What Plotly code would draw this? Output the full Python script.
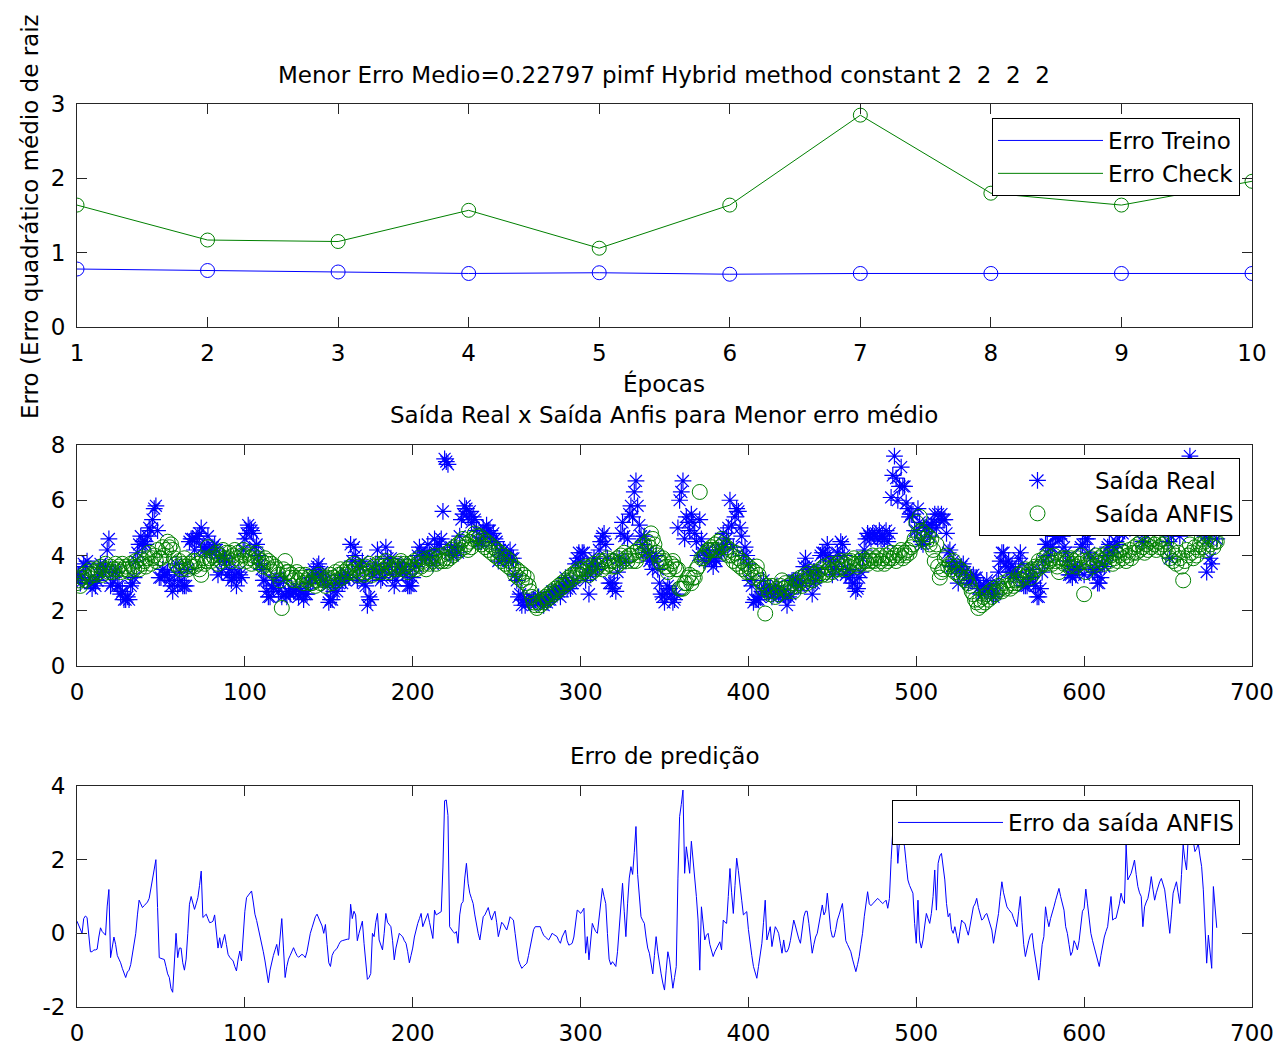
import plotly.graph_objects as go

# ---------------- data ----------------
epochs = [1, 2, 3, 4, 5, 6, 7, 8, 9, 10]
erro_treino = [0.78, 0.76, 0.74, 0.72, 0.73, 0.71, 0.72, 0.72, 0.72, 0.72]
erro_check = [1.64, 1.17, 1.15, 1.57, 1.06, 1.64, 2.85, 1.80, 1.64, 1.96]

saida_anfis = [
    3.0, 3.1, 2.9, 3.2, 3.3, 3.1, 3.4, 3.2, 3.5, 3.3, 3.4, 3.3, 3.5, 3.4, 3.6, 3.3, 3.5, 3.7, 3.5, 3.4,
    3.6, 3.4, 3.5, 3.7, 3.5, 3.6, 3.4, 3.7, 3.5, 3.6, 3.5, 3.4, 3.7, 3.6, 3.5, 3.8, 3.6, 3.5, 3.9, 3.7,
    3.8, 3.6, 3.9, 4.1, 3.7, 3.9, 4.0, 3.8, 4.2, 3.9, 3.9, 4.3, 4.0, 4.2, 4.5, 4.3, 4.4, 4.2, 3.9, 3.7,
    3.6, 3.8, 3.5, 3.7, 3.9, 3.6, 3.5, 3.7, 3.6, 3.8, 3.6, 3.8, 3.7, 3.5, 3.3, 3.9, 3.7, 3.8, 4.3, 3.9,
    3.8, 4.0, 3.9, 4.1, 3.7, 4.0, 3.8, 4.2, 3.9, 4.1, 3.9, 4.1, 3.8, 4.0, 4.2, 3.9, 4.1, 3.8, 4.0, 4.2,
    4.0, 3.8, 4.1, 3.9, 3.7, 4.0, 3.8, 4.1, 3.9, 3.7, 3.8, 3.6, 3.9, 3.7, 3.8, 3.5, 3.7, 3.4, 3.6, 3.5,
    3.3, 3.1, 2.1, 3.5, 3.8, 3.4, 3.4, 3.2, 3.3, 3.1, 3.2, 3.4, 3.1, 3.3, 3.2, 3.0, 3.3, 3.1, 3.2, 3.0,
    3.0, 3.2, 2.9, 3.1, 3.3, 3.0, 3.2, 3.1, 2.9, 3.2, 3.1, 3.3, 3.0, 3.2, 3.4, 3.1, 3.3, 3.5, 3.2, 3.4,
    3.3, 3.5, 3.4, 3.6, 3.4, 3.7, 3.5, 3.3, 3.6, 3.4, 3.5, 3.3, 3.6, 3.4, 3.7, 3.5, 3.3, 3.6, 3.4, 3.7,
    3.6, 3.4, 3.7, 3.5, 3.8, 3.6, 3.4, 3.7, 3.5, 3.6, 3.5, 3.7, 3.6, 3.8, 3.5, 3.7, 3.6, 3.4, 3.7, 3.5,
    3.6, 3.8, 3.5, 3.7, 3.9, 3.6, 3.8, 3.7, 3.5, 3.9, 3.7, 3.9, 3.8, 4.0, 3.7, 3.9, 3.8, 4.0, 3.8, 3.9,
    3.8, 4.1, 3.9, 4.2, 4.0, 4.3, 4.1, 4.4, 4.2, 4.5, 4.6, 4.3, 4.4, 4.2, 4.5, 4.3, 4.6, 4.8, 4.7, 4.5,
    4.7, 4.4, 4.6, 4.3, 4.5, 4.2, 4.4, 4.1, 4.3, 4.0, 4.2, 3.9, 4.1, 3.8, 4.0, 3.7, 3.9, 3.6, 3.8, 3.5,
    3.6, 3.3, 3.5, 3.2, 3.4, 3.1, 3.3, 3.0, 3.2, 2.9, 2.7, 2.5, 2.3, 2.2, 2.1, 2.3, 2.2, 2.4, 2.3, 2.5,
    2.4, 2.6, 2.5, 2.7, 2.6, 2.8, 2.7, 2.9, 2.8, 3.0, 2.9, 3.1, 3.0, 3.2, 3.1, 3.3, 3.2, 3.4, 3.3, 3.5,
    3.3, 3.5, 3.4, 3.6, 3.5, 3.3, 3.6, 3.4, 3.7, 3.5, 3.6, 3.8, 3.7, 3.5, 3.8, 3.6, 3.9, 3.7, 3.8, 3.6,
    3.8, 3.6, 3.9, 3.7, 4.0, 3.8, 4.1, 3.9, 3.8, 4.0, 4.0, 3.8, 4.1, 3.8, 4.2, 4.0, 4.3, 4.1, 4.4, 4.2,
    4.5, 4.3, 4.8, 4.6, 4.4, 4.1, 4.0, 3.8, 3.7, 3.9, 3.8, 3.6, 3.4, 3.5, 3.7, 3.8, 3.6, 3.5, 3.5, 2.8,
    2.8, 2.8, 3.0, 3.0, 3.2, 3.3, 3.0, 3.2, 3.2, 3.5, 3.6, 6.3, 3.9, 3.9, 4.0, 4.1, 4.2, 4.2, 4.3, 4.2,
    4.4, 4.2, 4.5, 4.3, 4.6, 4.4, 4.1, 4.3, 4.0, 4.2, 4.0, 3.8, 4.1, 3.7, 3.9, 3.6, 3.8, 3.5, 3.7, 3.4,
    3.6, 3.4, 3.5, 3.2, 3.4, 3.6, 3.3, 3.1, 3.0, 2.8, 1.9, 2.9, 2.7, 2.6, 2.9, 2.7, 2.5, 2.8, 2.6, 2.9,
    3.1, 2.8, 3.0, 2.7, 2.9, 2.8, 3.0, 2.7, 2.9, 3.1, 3.0, 3.2, 2.9, 3.1, 3.3, 3.0, 3.2, 3.4, 3.1, 3.3,
    3.2, 3.4, 3.3, 3.5, 3.3, 3.6, 3.4, 3.3, 3.5, 3.7, 3.4, 3.6, 3.5, 3.7, 3.5, 3.8, 3.6, 3.7, 3.5, 3.8,
    3.6, 3.8, 3.7, 3.9, 3.7, 3.6, 3.8, 3.7, 3.9, 3.8, 3.8, 3.7, 3.9, 3.8, 4.0, 3.8, 3.9, 3.7, 4.0, 3.8,
    3.9, 3.7, 4.0, 3.8, 3.9, 4.1, 3.9, 4.0, 3.8, 4.1, 4.0, 4.2, 3.9, 4.1, 4.0, 4.2, 4.1, 4.3, 4.4, 4.6,
    5.2, 4.8, 5.4, 4.9, 4.6, 4.8, 4.5, 4.7, 4.4, 4.6, 4.2, 3.8, 4.4, 3.6, 3.2, 3.4, 3.5, 3.9, 4.0, 3.6,
    3.7, 3.5, 3.8, 3.4, 3.6, 3.3, 3.5, 3.2, 3.4, 3.1, 3.2, 3.0, 2.9, 2.7, 2.6, 2.4, 2.3, 2.1, 2.4, 2.2,
    2.5, 2.3, 2.6, 2.4, 2.7, 2.5, 2.8, 2.6, 2.7, 2.9, 2.8, 2.7, 3.0, 2.8, 2.9, 3.1, 2.8, 3.0, 2.9, 3.1,
    3.0, 3.3, 3.1, 3.4, 3.2, 3.5, 3.3, 3.4, 3.2, 3.5, 3.4, 3.6, 3.5, 3.8, 3.6, 3.7, 3.9, 3.7, 4.0, 3.8,
    3.9, 3.7, 4.0, 3.8, 3.6, 3.4, 3.8, 3.9, 3.7, 3.9, 3.8, 3.6, 3.9, 3.7, 3.8, 3.6, 3.9, 3.7, 4.0, 3.8,
    2.6, 3.4, 3.8, 3.7, 3.9, 3.6, 3.8, 4.0, 3.7, 3.9, 3.8, 4.0, 3.7, 3.9, 4.1, 3.8, 4.0, 3.7, 3.9, 4.1,
    3.8, 4.0, 4.2, 3.9, 4.1, 3.8, 4.0, 4.2, 3.9, 4.1, 4.3, 4.1, 4.4, 4.2, 4.5, 4.3, 4.1, 4.4, 4.2, 4.5,
    4.3, 4.6, 4.4, 4.2, 4.5, 4.3, 4.6, 4.4, 4.2, 4.5, 4.1, 3.9, 4.2, 3.8, 4.0, 3.7, 4.1, 3.9, 3.6, 3.1,
    3.8, 4.2, 4.0, 4.4, 4.1, 3.9, 4.3, 4.0, 4.2, 4.4, 4.6, 4.3, 4.5, 4.2, 4.7, 4.4, 4.6, 4.3, 4.5, 4.5,
]

saida_real = [
    3.3, 3.3, 3.0, 3.2, 3.7, 3.6, 3.8, 3.1, 3.0, 2.8, 3.0, 2.9, 3.1, 3.3, 3.7, 3.4, 3.5, 3.6, 4.2, 4.6,
    2.9, 3.0, 3.4, 3.4, 2.9, 2.9, 2.6, 2.7, 2.4, 2.4, 2.5, 2.4, 2.9, 3.0, 3.2, 3.8, 4.1, 4.4, 4.7, 4.4,
    4.5, 4.4, 4.7, 5.0, 4.9, 5.3, 5.7, 5.8, 4.9, 3.2, 3.2, 3.5, 3.3, 3.3, 3.4, 3.1, 2.9, 2.7, 3.1, 3.7,
    2.9, 3.4, 3.1, 2.9, 2.9, 2.9, 3.5, 4.5, 4.6, 4.6, 4.2, 4.6, 4.7, 4.8, 5.0, 4.3, 4.2, 4.3, 4.7, 4.2,
    4.1, 4.3, 4.4, 4.2, 3.3, 3.9, 3.4, 4.0, 3.9, 3.8, 3.3, 3.5, 3.1, 3.2, 3.3, 2.9, 3.4, 3.3, 3.2, 4.2,
    4.6, 4.8, 5.1, 5.0, 4.9, 4.8, 4.3, 4.4, 4.0, 3.7, 3.5, 3.1, 3.1, 2.7, 2.5, 2.5, 2.9, 2.8, 3.1, 3.2,
    2.7, 3.0, 2.5, 3.1, 2.6, 2.5, 2.7, 2.6, 2.8, 2.7, 2.7, 2.8, 2.5, 2.7, 2.6, 2.4, 2.6, 2.6, 3.0, 3.0,
    3.2, 3.5, 3.3, 3.6, 3.7, 3.3, 3.4, 3.1, 3.1, 2.9, 2.3, 2.4, 2.4, 2.7, 3.0, 2.7, 3.0, 3.3, 3.0, 3.2,
    3.1, 3.3, 3.2, 4.4, 3.8, 4.3, 4.0, 3.1, 3.6, 3.6, 3.8, 3.0, 2.9, 2.2, 2.5, 2.4, 3.3, 3.5, 3.7, 4.2,
    3.4, 3.1, 3.2, 3.5, 4.3, 3.9, 3.6, 3.9, 3.3, 2.9, 3.1, 3.6, 3.6, 3.7, 3.4, 3.5, 3.3, 2.9, 2.9, 2.9,
    3.2, 3.7, 3.6, 4.0, 4.3, 4.1, 4.0, 4.0, 4.0, 4.4, 4.0, 4.0, 3.7, 4.6, 4.2, 4.4, 4.4, 4.6, 5.6, 7.5,
    7.4, 7.3, 4.1, 4.3, 4.0, 4.3, 4.2, 4.1, 4.7, 5.3, 5.5, 5.8, 5.7, 5.4, 5.6, 5.2, 5.4, 5.3, 4.9, 4.5,
    4.5, 4.5, 5.0, 4.8, 5.1, 4.9, 4.9, 4.5, 4.8, 4.6, 4.5, 3.8, 4.2, 4.1, 4.2, 3.9, 4.0, 3.8, 4.2, 3.9,
    3.9, 3.3, 3.1, 2.5, 2.6, 2.2, 2.4, 2.2, 2.4, 2.3, 2.3, 2.4, 2.4, 2.4, 2.3, 2.5, 2.4, 2.4, 2.2, 2.4,
    2.3, 2.4, 2.4, 2.7, 2.6, 2.7, 2.6, 2.7, 2.5, 2.9, 2.9, 3.2, 2.8, 2.9, 2.8, 3.0, 3.1, 3.7, 3.9, 4.1,
    3.8, 4.1, 4.1, 3.1, 3.4, 2.6, 3.3, 3.7, 3.9, 3.5, 3.6, 4.2, 4.5, 4.7, 4.8, 4.4, 3.9, 3.0, 3.0, 2.8,
    3.0, 2.7, 3.4, 3.9, 4.8, 5.2, 4.7, 3.8, 4.6, 5.5, 5.8, 5.4, 6.3, 6.7, 5.8, 5.1, 4.7, 4.4, 4.7, 4.1,
    4.1, 3.8, 3.9, 3.5, 3.8, 4.0, 3.5, 3.0, 2.6, 2.5, 2.3, 2.6, 2.9, 2.8, 2.6, 2.3, 2.4, 2.6, 5.0, 6.0,
    6.3, 6.7, 4.6, 5.4, 5.2, 4.9, 5.5, 5.2, 4.8, 4.5, 4.0, 5.3, 4.6, 4.1, 3.8, 4.0, 4.2, 3.9, 3.8, 3.6,
    3.9, 3.8, 4.2, 4.1, 4.2, 4.8, 4.4, 4.6, 5.0, 6.0, 5.1, 4.3, 5.4, 5.7, 5.6, 5.0, 4.7, 4.0, 4.3, 4.0,
    3.7, 3.1, 2.9, 2.3, 2.4, 2.4, 2.4, 2.5, 2.7, 3.1, 2.8, 2.7, 2.7, 2.8, 2.5, 2.6, 2.7, 2.9, 2.6, 2.6,
    2.6, 2.6, 2.5, 2.2, 2.5, 2.6, 3.1, 3.1, 3.1, 3.1, 2.9, 2.9, 3.0, 3.6, 3.9, 3.6, 3.5, 3.3, 2.6, 3.0,
    3.1, 3.4, 3.5, 4.0, 4.1, 4.1, 4.0, 4.4, 4.0, 3.8, 3.3, 3.5, 3.6, 4.1, 4.0, 4.5, 4.4, 4.0, 3.3, 3.5,
    3.2, 3.3, 3.0, 3.0, 2.7, 2.8, 3.2, 3.4, 3.9, 4.2, 4.6, 4.8, 4.7, 4.6, 4.8, 4.7, 4.8, 4.6, 4.9, 4.6,
    4.7, 4.6, 4.9, 4.5, 4.8, 6.1, 6.9, 7.6, 6.8, 6.0, 6.5, 7.2, 6.5, 6.5, 5.9, 5.7, 5.4, 5.5, 5.5, 4.9,
    4.9, 5.7, 5.2, 4.5, 4.4, 5.0, 5.0, 5.1, 4.7, 5.1, 5.2, 5.5, 5.0, 5.5, 5.3, 5.5, 5.3, 5.3, 4.8, 4.1,
    4.2, 3.6, 3.8, 3.6, 3.5, 3.0, 3.5, 3.6, 3.7, 3.4, 3.3, 3.0, 3.1, 3.2, 3.3, 3.2, 3.2, 2.8, 2.9, 2.6,
    2.9, 2.8, 3.1, 2.8, 2.9, 2.6, 2.5, 2.6, 3.0, 3.4, 3.8, 4.1, 4.1, 3.7, 3.6, 3.8, 3.4, 3.6, 3.3, 3.4,
    3.2, 3.9, 4.1, 3.7, 2.9, 2.9, 2.9, 3.2, 3.2, 3.5, 3.0, 2.9, 2.5, 2.5, 2.8, 3.4, 3.8, 4.4, 4.4, 4.0,
    4.3, 4.3, 4.7, 4.7, 4.7, 4.6, 4.8, 4.7, 4.3, 4.1, 3.8, 3.3, 3.3, 3.2, 3.6, 3.3, 3.5, 3.5, 4.3, 4.4,
    3.3, 4.6, 4.6, 4.1, 3.9, 3.4, 3.4, 3.5, 3.0, 3.0, 3.2, 3.7, 3.6, 4.0, 4.3, 4.4, 5.0, 4.1, 4.3, 4.5,
    4.4, 4.8, 5.3, 4.8, 4.9, 6.2, 5.5, 5.8, 5.5, 5.9, 6.3, 5.7, 5.7, 5.3, 5.5, 4.5, 4.8, 5.2, 5.1, 5.7,
    5.8, 5.8, 5.3, 5.3, 5.8, 5.7, 6.1, 5.7, 5.4, 5.3, 4.5, 3.9, 4.7, 4.9, 5.3, 5.1, 5.2, 4.7, 5.2, 5.5,
    5.8, 5.9, 6.6, 7.6, 6.9, 6.4, 6.5, 6.3, 6.6, 6.5, 6.4, 5.5, 4.7, 3.4, 4.6, 3.9, 3.7, 5.6, 5.2, 4.6,
]

erro_saida = [
    0.33, 0.2, 0.1, 0.0, 0.4, 0.47, 0.43, -0.1, -0.5, -0.5, -0.45, -0.45, -0.43, -0.1, 0.15, 0.05, 0.0, -0.05, 0.74, 1.19,
    -0.66, -0.4, -0.1, -0.3, -0.6, -0.7, -0.8, -0.95, -1.1, -1.2, -1.05, -1.0, -0.85, -0.6, -0.3, 0.0, 0.5, 0.9, 0.8, 0.7,
    0.75, 0.79, 0.85, 0.95, 1.2, 1.42, 1.7, 2.0, 0.7, -0.66, -0.68, -0.7, -0.71, -0.9, -1.1, -1.2, -1.5, -1.6, -0.8, 0.0,
    -0.66, -0.4, -0.4, -0.8, -1.0, -0.7, 0.0, 0.79, 1.0, 0.85, 0.65, 0.8, 0.97, 1.3, 1.69, 0.43, 0.48, 0.52, 0.4, 0.29,
    0.3, 0.33, 0.5, 0.1, -0.4, -0.12, -0.4, -0.2, -0.03, -0.3, -0.57, -0.65, -0.7, -0.75, -0.9, -1.02, -0.7, -0.48, -0.75, 0.0,
    0.6, 0.97, 1.03, 1.1, 1.15, 0.85, 0.52, 0.35, 0.15, -0.03, -0.3, -0.5, -0.75, -1.0, -1.34, -1.0, -0.75, -0.6, -0.45, -0.3,
    -0.6, -0.1, 0.4, -0.4, -1.2, -0.9, -0.7, -0.6, -0.5, -0.39, -0.5, -0.6, -0.65, -0.6, -0.57, -0.6, -0.66, -0.5, -0.2, 0.0,
    0.15, 0.3, 0.45, 0.52, 0.4, 0.28, 0.2, 0.0, 0.24, -0.3, -0.8, -0.9, -0.6, -0.5, -0.45, -0.4, -0.3, -0.22, -0.2, -0.18,
    -0.16, -0.16, -0.16, 0.79, 0.4, 0.6, 0.5, -0.2, 0.0, 0.2, 0.33, -0.27, -0.7, -1.25, -1.2, -1.09, 0.0, -0.09, 0.3, 0.54,
    -0.18, -0.3, -0.45, 0.0, 0.54, 0.3, 0.22, 0.18, -0.2, -0.72, -0.4, -0.15, 0.0, -0.05, -0.09, -0.2, -0.27, -0.5, -0.8, -0.6,
    -0.4, -0.1, 0.1, 0.27, 0.4, 0.54, 0.18, 0.3, 0.45, 0.54, 0.3, 0.1, -0.14, 0.63, 0.5, 0.53, 0.56, 0.59, 1.8, 3.6,
    3.62, 3.2, 0.18, 0.1, 0.05, 0.0, 0.05, -0.27, 0.5, 0.8, 0.86, 1.5, 1.9, 1.36, 1.09, 0.95, 0.81, 0.5, 0.18, 0.0,
    -0.18, 0.1, 0.45, 0.5, 0.6, 0.7, 0.5, 0.36, 0.5, 0.6, 0.3, -0.09, 0.1, 0.3, 0.25, 0.15, 0.09, 0.25, 0.45, 0.4,
    0.36, 0.0, -0.4, -0.72, -0.85, -0.95, -0.9, -0.85, -0.81, -0.6, -0.36, -0.1, 0.1, 0.18, 0.18, 0.18, 0.18, 0.05, -0.05, -0.1,
    -0.15, -0.18, -0.1, 0.0, -0.03, -0.06, -0.09, -0.2, -0.27, -0.1, 0.0, 0.09, -0.2, -0.32, -0.3, -0.27, -0.1, 0.3, 0.63, 0.6,
    0.54, 0.6, 0.68, -0.54, -0.09, -0.72, -0.3, 0.27, 0.15, 0.05, 0.0, 0.4, 0.8, 1.22, 1.0, 0.81, 0.0, -0.7, -0.85, -0.77,
    -0.83, -0.9, -0.5, 0.2, 0.8, 1.36, 0.6, -0.09, 0.8, 1.5, 1.81, 1.6, 2.2, 2.9, 1.6, 1.1, 0.45, 0.35, 0.27, -0.1,
    -0.4, -0.54, -0.9, -1.1, -0.6, -0.09, -0.5, -0.85, -1.1, -1.35, -1.54, -1.0, -0.5, -0.72, -1.1, -1.49, -1.2, -0.9, 1.5, 3.17,
    3.5, 3.89, 1.63, 2.35, 2.0, 1.63, 2.5, 2.0, 1.63, 1.0, 0.36, -1.0, 0.72, 0.2, -0.18, -0.05, 0.0, -0.3, -0.45, -0.63,
    -0.5, -0.4, -0.3, -0.23, -0.45, 0.36, 0.3, 0.27, 1.0, 1.76, 1.1, 0.54, 1.3, 2.04, 1.7, 1.36, 0.9, 0.5, 0.55, 0.59,
    0.1, -0.3, -0.6, -0.9, -1.05, -1.22, -0.9, -0.6, -0.27, 0.3, 0.9, -0.18, 0.0, 0.18, -0.36, -0.1, 0.18, 0.1, 0.0, -0.27,
    -0.54, -0.18, -0.5, -0.5, -0.4, -0.2, 0.1, 0.36, 0.2, 0.0, -0.15, -0.27, 0.1, 0.45, 0.6, 0.6, 0.27, -0.1, -0.54, -0.3,
    -0.1, 0.0, 0.25, 0.5, 0.77, 0.5, 0.6, 1.09, 0.5, 0.1, -0.1, -0.1, 0.1, 0.36, 0.5, 0.7, 0.81, 0.3, -0.2, -0.3,
    -0.4, -0.5, -0.7, -0.9, -1.04, -0.85, -0.63, -0.3, 0.0, 0.45, 0.8, 1.13, 0.8, 0.75, 0.8, 0.86, 0.9, 0.95, 0.9, 0.85,
    0.81, 0.85, 0.9, 0.68, 0.95, 2.0, 3.0, 3.6, 3.0, 1.9, 2.5, 2.99, 2.6, 2.35, 1.9, 1.45, 1.3, 1.2, 1.09, 0.27,
    -0.27, 0.9, -0.2, -0.4, -0.18, 0.2, 0.54, 0.4, 0.27, 0.54, 1.0, 1.72, 0.63, 1.9, 2.1, 2.17, 1.8, 1.45, 0.81, 0.45,
    0.54, 0.1, 0.0, 0.18, -0.05, -0.27, 0.05, 0.36, 0.3, 0.27, 0.1, -0.05, 0.2, 0.5, 0.72, 0.8, 0.95, 0.7, 0.5, 0.36,
    0.4, 0.5, 0.54, 0.4, 0.25, 0.09, -0.27, 0.0, 0.3, 0.54, 1.0, 1.4, 1.1, 0.9, 0.72, 0.65, 0.6, 0.54, 0.4, 0.3,
    0.18, 0.6, 1.0, 0.3, -0.3, -0.63, -0.36, -0.2, -0.05, 0.0, -0.4, -0.72, -1.0, -1.27, -0.8, -0.3, -0.09, 0.72, 0.4, 0.18,
    0.4, 0.6, 0.72, 0.9, 1.1, 1.22, 1.0, 0.8, 0.63, 0.18, 0.0, -0.3, -0.6, -0.5, -0.2, -0.3, -0.45, -0.2, 0.3, 0.6,
    0.68, 1.2, 0.8, 0.36, 0.0, -0.2, -0.36, -0.55, -0.75, -0.9, -0.6, -0.32, -0.1, 0.05, 0.18, 0.6, 1.0, 0.36, 0.4, 0.41,
    0.6, 0.8, 1.09, 0.9, 0.81, 2.4, 1.45, 1.55, 1.63, 1.8, 1.99, 1.6, 1.27, 1.1, 1.0, 0.18, 0.72, 0.85, 0.95, 1.2,
    1.54, 1.2, 0.9, 1.1, 1.27, 1.4, 1.49, 1.3, 1.18, 0.8, 0.4, 0.0, 0.5, 1.09, 1.25, 1.4, 1.1, 0.81, 1.6, 2.4,
    2.0, 1.72, 2.58, 3.2, 2.8, 2.5, 2.22, 2.3, 2.44, 2.1, 1.81, 1.18, 0.2, -0.81, -0.05, -0.5, -0.95, 1.27, 0.7, 0.15,
]

amostras = list(range(len(saida_anfis)))

x_ticks_ep = [1, 2, 3, 4, 5, 6, 7, 8, 9, 10]
y_ticks_ep = [0, 1, 2, 3]
x_ticks_s = [0, 100, 200, 300, 400, 500, 600, 700]
y_ticks_s = [0, 2, 4, 6, 8]
y_ticks_e = [-2, 0, 2, 4]
y_ticktext_e = ["-2", "0", "2", "4"]

title1 = "Menor Erro Medio=0.22797 pimf Hybrid method constant 2  2  2  2"
title2 = "Saída Real x Saída Anfis para Menor erro médio"
title3 = "Erro de predição"
xlabel1 = "Épocas"
ylabel1 = "Erro (Erro quadrático médio de raiz"

# ---------------- style ----------------
FONT = "DejaVu Sans, sans-serif"
FS = 23
BLUE = "#0000ff"
GREEN = "#008000"
AXC = "#262626"
W, H = 1281, 1046


def px_y(p):
    return 1 - p / H


def px_x(p):
    return p / W


xdom = [px_x(77), px_x(1252)]

fig = go.Figure()

# panel 1
fig.add_trace(go.Scatter(x=epochs, y=erro_treino, mode="lines", name="Erro Treino",
                         line=dict(color=BLUE, width=1), xaxis="x", yaxis="y", legend="legend"))
fig.add_trace(go.Scatter(x=epochs, y=erro_check, mode="lines", name="Erro Check",
                         line=dict(color=GREEN, width=1), xaxis="x", yaxis="y", legend="legend"))
fig.add_trace(go.Scatter(x=epochs, y=erro_treino, mode="markers", showlegend=False,
                         marker=dict(symbol="circle-open", size=14, color=BLUE, line=dict(width=1)),
                         xaxis="x", yaxis="y"))
fig.add_trace(go.Scatter(x=epochs, y=erro_check, mode="markers", showlegend=False,
                         marker=dict(symbol="circle-open", size=14, color=GREEN, line=dict(width=1)),
                         xaxis="x", yaxis="y"))

# panel 2
fig.add_trace(go.Scatter(x=amostras, y=saida_real, mode="markers", name="Saída Real",
                         marker=dict(symbol="asterisk-open", size=14, color=BLUE, line=dict(width=1.2, color=BLUE)),
                         xaxis="x2", yaxis="y2", legend="legend2"))
fig.add_trace(go.Scatter(x=amostras, y=saida_anfis, mode="markers", name="Saída ANFIS",
                         marker=dict(symbol="circle-open", size=15, color=GREEN, line=dict(width=1, color=GREEN)),
                         xaxis="x2", yaxis="y2", legend="legend2"))

# panel 3
fig.add_trace(go.Scatter(x=amostras, y=erro_saida, mode="lines", name="Erro da saída ANFIS",
                         line=dict(color=BLUE, width=1), xaxis="x3", yaxis="y3", legend="legend3"))


def axis(domain, rng, ticks, anchor, standoff, ticktext=None):
    d = dict(domain=domain, range=rng, tickvals=ticks, ticks="inside", ticklen=10,
             tickcolor=AXC, tickwidth=1, showline=True, linecolor=AXC, linewidth=1,
             mirror="ticks", showgrid=False, zeroline=False, anchor=anchor,
             tickfont=dict(family=FONT, size=FS, color="black"), automargin=False,
             ticklabelstandoff=standoff)
    if ticktext is not None:
        d["ticktext"] = ticktext
    return d


legend_common = dict(bgcolor="white", bordercolor="black", borderwidth=1,
                     font=dict(family=FONT, size=FS, color="black"),
                     xanchor="right", yanchor="top", itemwidth=105, tracegroupgap=0)

fig.update_layout(
    width=W, height=H, margin=dict(l=0, r=0, t=0, b=0),
    paper_bgcolor="white", plot_bgcolor="white",
    font=dict(family=FONT, size=FS, color="black"),
    xaxis=axis(xdom, [1, 10], x_ticks_ep, "y", 5),
    yaxis=axis([px_y(327), px_y(104)], [0, 3], y_ticks_ep, "x", 6),
    xaxis2=axis(xdom, [0, 700], x_ticks_s, "y2", 5),
    yaxis2=axis([px_y(666), px_y(445)], [0, 8], y_ticks_s, "x2", 6),
    xaxis3=axis(xdom, [0, 700], x_ticks_s, "y3", 5),
    yaxis3=axis([px_y(1007), px_y(786)], [-2, 4], y_ticks_e, "x3", 6, y_ticktext_e),
    legend=dict(x=px_x(1240), y=px_y(118), **legend_common),
    legend2=dict(x=px_x(1240), y=px_y(458), **legend_common),
    legend3=dict(x=px_x(1240), y=px_y(800), **legend_common),
    showlegend=True,
    hovermode=False,
)

ann = dict(xref="paper", yref="paper", showarrow=False, font=dict(family=FONT, size=FS, color="black"),
           xanchor="center", yanchor="middle")
fig.add_annotation(text=title1, x=px_x(664), y=px_y(75), **ann)
fig.add_annotation(text=xlabel1, x=px_x(664), y=px_y(383), **ann)
fig.add_annotation(text=title2, x=px_x(664), y=px_y(415), **ann)
fig.add_annotation(text=title3, x=px_x(664), y=px_y(756), **ann)
fig.add_annotation(text=ylabel1, x=px_x(30), y=px_y(217), textangle=-90, **ann)

fig.write_html("out.html")
